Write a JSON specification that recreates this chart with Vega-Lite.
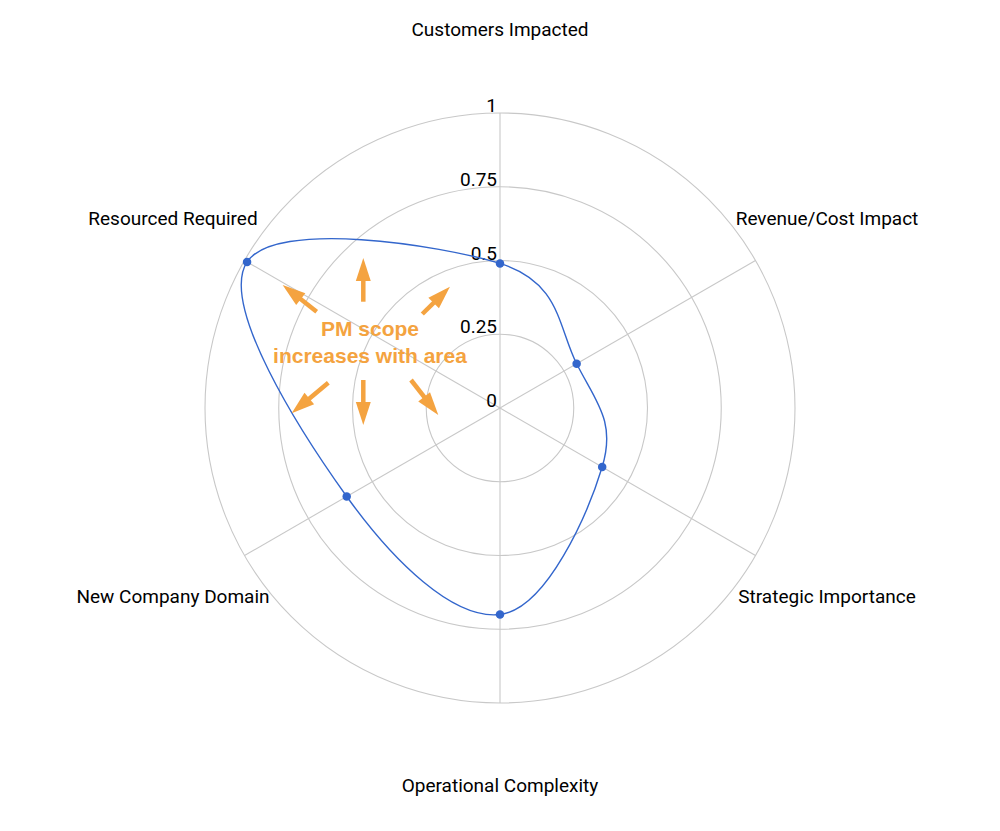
{
  "$schema": "https://vega.github.io/schema/vega-lite/v6.json",
  "width": 590,
  "height": 590,
  "autosize": "none",
  "padding": {"left": 205, "top": 113, "right": 205, "bottom": 128},
  "background": "white",
  "config": {"view": {"stroke": null}},
  "datasets": {
    "scores": [
      {"dimension": "Customers Impacted", "order": 0, "score": 0.49},
      {"dimension": "Revenue/Cost Impact", "order": 1, "score": 0.30},
      {"dimension": "Strategic Importance", "order": 2, "score": 0.40},
      {"dimension": "Operational Complexity", "order": 3, "score": 0.70},
      {"dimension": "New Company Domain", "order": 4, "score": 0.60},
      {"dimension": "Resourced Required", "order": 5, "score": 0.99}
    ],
    "rings": [
      {"level": 0, "label": "0"},
      {"level": 0.25, "label": "0.25"},
      {"level": 0.5, "label": "0.5"},
      {"level": 0.75, "label": "0.75"},
      {"level": 1, "label": "1"}
    ],
    "arrows": [
      {"tx": -0.4634, "ty": 0.3603, "hx": -0.4634, "hy": 0.4695, "rot": 0},
      {"tx": -0.6214, "ty": 0.3264, "hx": -0.7061, "hy": 0.3929, "rot": 308},
      {"tx": -0.2634, "ty": 0.3186, "hx": -0.1973, "hy": 0.3837, "rot": 45},
      {"tx": -0.5820, "ty": 0.0858, "hx": -0.6763, "hy": 0.0071, "rot": 230},
      {"tx": -0.4634, "ty": 0.0949, "hx": -0.4634, "hy": -0.0186, "rot": 180},
      {"tx": -0.3017, "ty": 0.0949, "hx": -0.2332, "hy": 0.0071, "rot": 142}
    ],
    "note": [
      {"line": "PM scope", "nx": -0.4407, "ny": 0.2644},
      {"line": "increases with area", "nx": -0.4407, "ny": 0.1729}
    ]
  },
  "layer": [
    {
      "data": {"name": "rings"},
      "transform": [{"filter": "datum.level > 0"}, {"calculate": "0", "as": "c0"}],
      "mark": {"type": "point", "shape": "circle", "filled": false, "color": "#c8c8c8", "strokeWidth": 1.1, "opacity": 1},
      "encoding": {
        "x": {"field": "c0", "type": "quantitative", "scale": {"domain": [-1, 1], "nice": false, "zero": false}, "axis": null},
        "y": {"field": "c0", "type": "quantitative", "scale": {"domain": [-1, 1], "nice": false, "zero": false}, "axis": null},
        "size": {"field": "level", "type": "quantitative", "scale": {"type": "pow", "exponent": 2, "domain": [0, 1], "range": [0, 348100]}, "legend": null}
      }
    },
    {
      "data": {"name": "scores"},
      "transform": [
        {"calculate": "0", "as": "c0"},
        {"calculate": "sin(datum.order * PI / 3)", "as": "sx"},
        {"calculate": "cos(datum.order * PI / 3)", "as": "sy"}
      ],
      "mark": {"type": "rule", "color": "#c8c8c8", "strokeWidth": 1.1},
      "encoding": {
        "x": {"field": "c0", "type": "quantitative"},
        "y": {"field": "c0", "type": "quantitative"},
        "x2": {"field": "sx"},
        "y2": {"field": "sy"}
      }
    },
    {
      "data": {"name": "rings"},
      "transform": [{"calculate": "0", "as": "c0"}],
      "mark": {"type": "text", "align": "right", "baseline": "alphabetic", "dx": -3, "dy": -1, "font": "Roboto", "fontSize": 19, "color": "#000000"},
      "encoding": {
        "x": {"field": "c0", "type": "quantitative"},
        "y": {"field": "level", "type": "quantitative"},
        "text": {"field": "label"}
      }
    },
    {
      "data": {"name": "scores"},
      "transform": [
        {"calculate": "1.28 * sin(datum.order * PI / 3)", "as": "lx"},
        {"calculate": "1.28 * cos(datum.order * PI / 3)", "as": "ly"}
      ],
      "mark": {"type": "text", "align": "center", "baseline": "middle", "font": "Roboto", "fontSize": 19, "color": "#000000"},
      "encoding": {
        "x": {"field": "lx", "type": "quantitative"},
        "y": {"field": "ly", "type": "quantitative"},
        "text": {"field": "dimension"}
      }
    },
    {
      "data": {"name": "scores"},
      "transform": [
        {"calculate": "datum.score * sin(datum.order * PI / 3)", "as": "px"},
        {"calculate": "datum.score * cos(datum.order * PI / 3)", "as": "py"}
      ],
      "mark": {"type": "line", "interpolate": "cardinal-closed", "tension": -0.1, "color": "#3366cc", "strokeWidth": 1.4},
      "encoding": {
        "x": {"field": "px", "type": "quantitative"},
        "y": {"field": "py", "type": "quantitative"},
        "order": {"field": "order", "type": "quantitative"}
      }
    },
    {
      "data": {"name": "scores"},
      "transform": [
        {"calculate": "datum.score * sin(datum.order * PI / 3)", "as": "px"},
        {"calculate": "datum.score * cos(datum.order * PI / 3)", "as": "py"}
      ],
      "mark": {"type": "point", "filled": true, "size": 72, "color": "#3366cc", "opacity": 1},
      "encoding": {
        "x": {"field": "px", "type": "quantitative"},
        "y": {"field": "py", "type": "quantitative"}
      }
    },
    {
      "data": {"name": "arrows"},
      "mark": {"type": "rule", "color": "#f4a340", "strokeWidth": 4.5},
      "encoding": {
        "x": {"field": "tx", "type": "quantitative"},
        "y": {"field": "ty", "type": "quantitative"},
        "x2": {"field": "hx"},
        "y2": {"field": "hy"}
      }
    },
    {
      "data": {"name": "arrows"},
      "mark": {"type": "point", "shape": "M0,-1L0.65,1L-0.65,1Z", "filled": true, "size": 529, "color": "#f4a340", "opacity": 1, "strokeWidth": 0},
      "encoding": {
        "x": {"field": "hx", "type": "quantitative"},
        "y": {"field": "hy", "type": "quantitative"},
        "angle": {"field": "rot", "type": "quantitative", "scale": null}
      }
    },
    {
      "data": {"name": "note"},
      "mark": {"type": "text", "align": "center", "baseline": "middle", "font": "Liberation Sans", "fontWeight": "bold", "fontSize": 21, "color": "#f4a340"},
      "encoding": {
        "x": {"field": "nx", "type": "quantitative"},
        "y": {"field": "ny", "type": "quantitative"},
        "text": {"field": "line"}
      }
    }
  ]
}
